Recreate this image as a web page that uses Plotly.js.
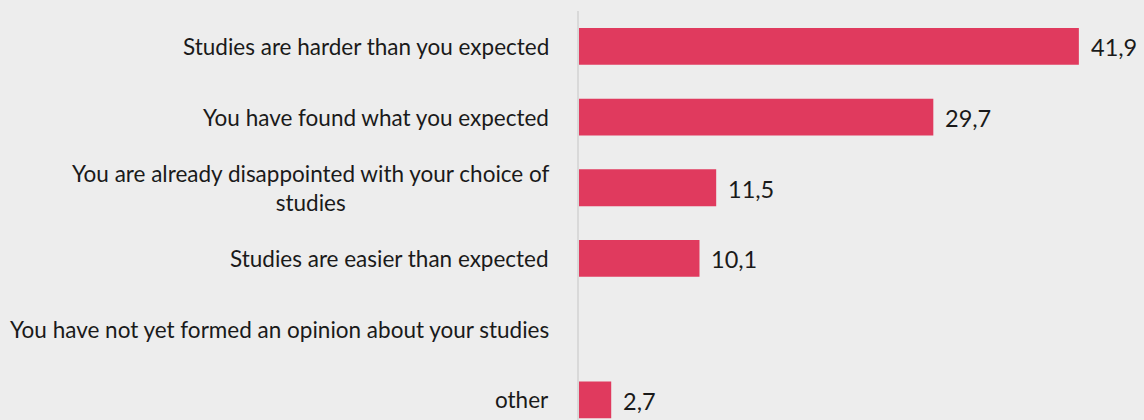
<!DOCTYPE html>
<html>
<head>
<meta charset="utf-8">
<script src="https://cdn.plot.ly/plotly-3.0.1.min.js"></script>
<style>
html,body{margin:0;padding:0;background:#ededed;}
#chart{width:1144px;height:420px;}
</style>
</head>
<body>
<div id="chart"></div>
<script>
const categories = [
  "Studies are harder than you expected",
  "You have found what you expected",
  "You are already disappointed with your choice of<br>studies",
  "Studies are easier than expected",
  "You have not yet formed an opinion about your studies",
  "other"
];
const values = [41.9, 29.7, 11.5, 10.1, null, 2.7];
const valueLabels = ["41,9", "29,7", "11,5", "10,1", "", "2,7"];

const FONT = "Lato, 'Noto Sans', sans-serif";
const TEXT = "#1a1a1a";

const annotations = [];
categories.forEach((c, i) => {
  annotations.push({
    xref: "paper", yref: "y", x: 0, y: c,
    xanchor: "right", yanchor: "middle", align: "center",
    xshift: -28, showarrow: false,
    text: c, font: {family: FONT, size: 22.5, color: TEXT}
  });
  if (values[i] !== null) {
    annotations.push({
      xref: "x", yref: "y", x: values[i], y: c,
      xanchor: "left", yanchor: "middle", xshift: 10, yshift: -1,
      showarrow: false,
      text: valueLabels[i], font: {family: FONT, size: 23.5, color: TEXT}
    });
  }
});

const trace = {
  type: "bar", orientation: "h",
  y: categories, x: values,
  marker: {color: "#e03a5e"},
  hoverinfo: "none"
};

const layout = {
  width: 1144, height: 420,
  margin: {l: 579, r: 0, t: 11, b: 0, pad: 0},
  paper_bgcolor: "#ededed", plot_bgcolor: "#ededed",
  showlegend: false,
  bargap: 0.48,
  xaxis: {range: [0, 47.36], showgrid: false, zeroline: false, showticklabels: false, showline: false, fixedrange: true},
  yaxis: {type: "category", range: [5.285, -0.5], showgrid: false, zeroline: false, showticklabels: false,
          showline: true, linecolor: "#d9d9d9", linewidth: 2, ticks: "", fixedrange: true},
  annotations: annotations,
  font: {family: FONT, color: TEXT}
};

Plotly.newPlot("chart", [trace], layout, {staticPlot: true, displayModeBar: false});
</script>
</body>
</html>
